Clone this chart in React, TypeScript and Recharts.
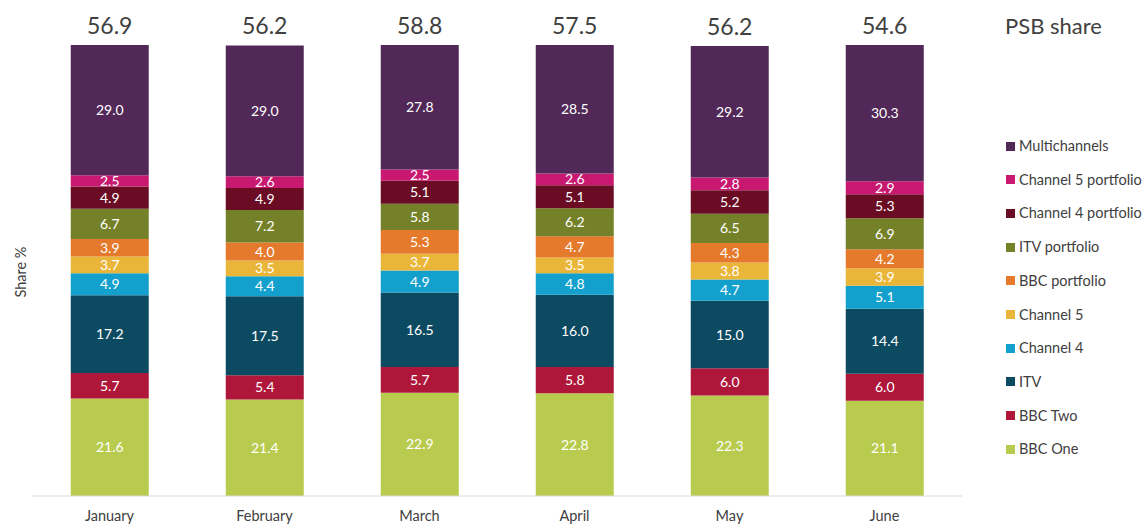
import React from 'react';
import { BarChart, Bar, XAxis, YAxis, Legend, LabelList } from 'recharts';

const months = ['January', 'February', 'March', 'April', 'May', 'June'];
const psbShare = [56.9, 56.2, 58.8, 57.5, 56.2, 54.6];

const bbcOne = [21.6, 21.4, 22.9, 22.8, 22.3, 21.1];
const bbcTwo = [5.7, 5.4, 5.7, 5.8, 6.0, 6.0];
const itv = [17.2, 17.5, 16.5, 16.0, 15.0, 14.4];
const channel4 = [4.9, 4.4, 4.9, 4.8, 4.7, 5.1];
const channel5 = [3.7, 3.5, 3.7, 3.5, 3.8, 3.9];
const bbcPortfolio = [3.9, 4.0, 5.3, 4.7, 4.3, 4.2];
const itvPortfolio = [6.7, 7.2, 5.8, 6.2, 6.5, 6.9];
const ch4Portfolio = [4.9, 4.9, 5.1, 5.1, 5.2, 5.3];
const ch5Portfolio = [2.5, 2.6, 2.5, 2.6, 2.8, 2.9];
const multichannels = [29.0, 29.0, 27.8, 28.5, 29.2, 30.3];

const series = [
  { key: 'bbcOne', name: 'BBC One', values: bbcOne, color: '#b8cb4e' },
  { key: 'bbcTwo', name: 'BBC Two', values: bbcTwo, color: '#ae163a' },
  { key: 'itv', name: 'ITV', values: itv, color: '#0b4a61' },
  { key: 'channel4', name: 'Channel 4', values: channel4, color: '#13a0cd' },
  { key: 'channel5', name: 'Channel 5', values: channel5, color: '#eab63a' },
  { key: 'bbcPortfolio', name: 'BBC portfolio', values: bbcPortfolio, color: '#e5792c' },
  { key: 'itvPortfolio', name: 'ITV portfolio', values: itvPortfolio, color: '#758128' },
  { key: 'ch4Portfolio', name: 'Channel 4 portfolio', values: ch4Portfolio, color: '#690c24' },
  { key: 'ch5Portfolio', name: 'Channel 5 portfolio', values: ch5Portfolio, color: '#c8186f' },
  { key: 'multichannels', name: 'Multichannels', values: multichannels, color: '#512857' },
];

const data = months.map((m, i) => {
  const row: any = { month: m, psb: psbShare[i] };
  series.forEach((s) => {
    row[s.key] = s.values[i];
  });
  return row;
});

const FONT = 'Lato, "Open Sans", sans-serif';
const TEXT = '#404040';

const renderLegend = () => {
  const items = [...series].reverse();
  return (
    <div style={{ position: 'relative', width: 142, height: 524, fontFamily: FONT, color: TEXT }}>
      <div style={{ position: 'absolute', left: 5, top: 12, fontSize: 22, lineHeight: '28px', whiteSpace: 'nowrap' }}>
        PSB share
      </div>
      {items.map((s, i) => (
        <div
          key={s.key}
          style={{
            position: 'absolute',
            left: 6,
            top: 136 + i * 33.7,
            height: 20,
            lineHeight: '20px',
            fontSize: 14.5,
            whiteSpace: 'nowrap',
            display: 'flex',
            alignItems: 'center',
          }}
        >
          <span style={{ display: 'inline-block', width: 9, height: 9, background: s.color, marginRight: 4 }} />
          <span>{s.name}</span>
        </div>
      ))}
    </div>
  );
};

const yLabel = () => (
  <text
    x={26}
    y={272}
    transform="rotate(-90 26 272)"
    textAnchor="middle"
    fontSize={14.5}
    fill={TEXT}
    fontFamily={FONT}
  >
    Share %
  </text>
);

export default function App() {
  return (
    <div style={{ position: 'absolute', left: 0, top: 0, width: 1142, height: 524, overflow: 'hidden', background: '#fff' }}>
      <BarChart
        width={1142}
        height={524}
        data={data}
        margin={{ top: 45, right: 38, bottom: 0, left: 0 }}
        barCategoryGap="25%"
      >
        <XAxis
          dataKey="month"
          height={28}
          tickLine={false}
          axisLine={{ stroke: '#d9d9d9', strokeWidth: 1 }}
          tickMargin={9}
          tick={{ fontSize: 14.5, fill: TEXT, fontFamily: FONT }}
        />
        <YAxis
          width={32}
          domain={[0, 100]}
          allowDataOverflow
          tick={false}
          axisLine={false}
          tickLine={false}
          label={yLabel}
        />
        <Legend
          layout="vertical"
          align="right"
          verticalAlign="top"
          content={renderLegend}
          wrapperStyle={{ position: 'absolute', left: 1000, top: 0, width: 142, height: 524 }}
        />
        {series.map((s, idx) => (
          <Bar
            key={s.key}
            dataKey={s.key}
            name={s.name}
            stackId="a"
            fill={s.color}
            isAnimationActive={false}
          >
            <LabelList
              dataKey={s.key}
              position="center"
              fill="#ffffff"
              fontSize={14}
              fontFamily={FONT}
              formatter={(v: any) => Number(v).toFixed(1)}
            />
            {idx === series.length - 1 && (
              <LabelList
                dataKey="psb"
                position="top"
                offset={11}
                fill={TEXT}
                fontSize={23}
                fontFamily={FONT}
                formatter={(v: any) => Number(v).toFixed(1)}
              />
            )}
          </Bar>
        ))}
      </BarChart>
    </div>
  );
}
